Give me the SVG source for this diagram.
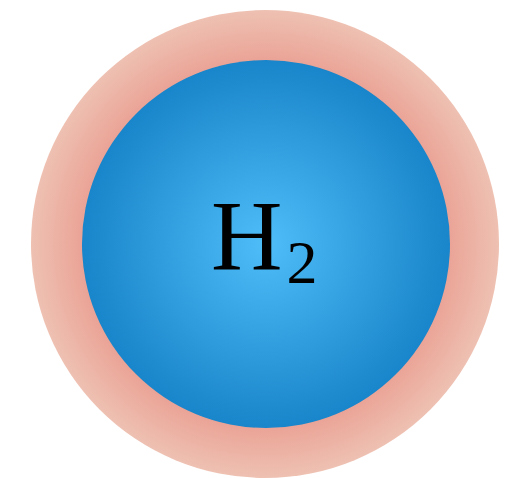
<svg xmlns="http://www.w3.org/2000/svg" width="518" height="478" viewBox="0 0 518 478">
<defs>
<radialGradient id="shell" cx="265" cy="244" r="234" gradientUnits="userSpaceOnUse">
<stop offset="0" stop-color="#E8958A"/>
<stop offset="0.78" stop-color="#EAA396"/>
<stop offset="1" stop-color="#EEC1B2"/>
</radialGradient>
<radialGradient id="core" cx="266" cy="244" r="184" gradientUnits="userSpaceOnUse">
<stop offset="0" stop-color="#4EBDF8"/>
<stop offset="1" stop-color="#1985CA"/>
</radialGradient>
<style>
.lbl{font-family:"Liberation Serif","DejaVu Serif",serif;fill:#000}
</style>
</defs>
<g id="shell-node"><circle cx="265" cy="244" r="234" fill="url(#shell)"/></g>
<g id="core-node"><circle cx="266" cy="244" r="184" fill="url(#core)"/>
<text class="lbl" x="211" y="269" font-size="99">H<tspan font-size="62" dx="4" y="283">2</tspan></text>
</g>
<g id="connectors"/>
</svg>
